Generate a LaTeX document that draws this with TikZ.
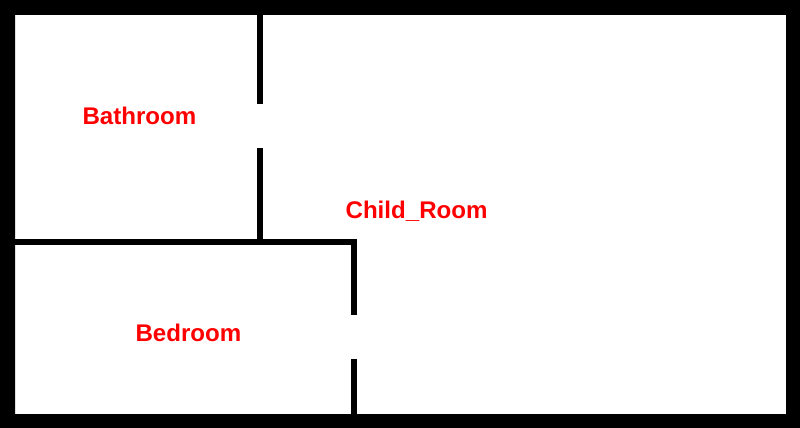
\documentclass[tikz,border=0pt]{standalone}
\usepackage{fontspec}
\setmainfont{Liberation Sans}
\tikzset{
  wall/.style = {line width = 6pt},
  roomlabel/.style = {text = red, anchor = base west, inner sep = 0pt, font = \fontsize{24.1}{28}\selectfont\bfseries}
}
\begin{document}
\begin{tikzpicture}[x = 1pt, y = -1pt]
\useasboundingbox (0, 0) rectangle (800, 428);

% outer walls
\fill[even odd rule] (0, 0) rectangle (800, 428) (15, 15) rectangle (786, 414);

% inner walls
\draw[wall] (260, 15) -- (260, 104);
\draw[wall] (260, 148) -- (260, 241);
\draw[wall] (15, 242) -- (354, 242) -- (354, 315);
\draw[wall] (354, 359) -- (354, 414);

\node[roomlabel] at (82.3, 124) (bathroom) {Bathroom};
\node[roomlabel] at (345.4, 218) (childroom) {Child\_Room};
\node[roomlabel] at (135.3, 341) (bedroom) {Bedroom};

\end{tikzpicture}
\end{document}
